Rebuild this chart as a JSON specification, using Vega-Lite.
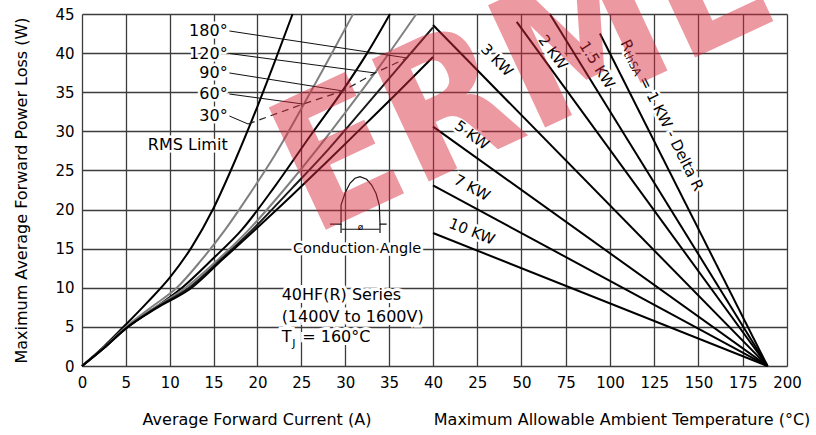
{
"$schema":"https://vega.github.io/schema/vega-lite/v6.json",
"width":705,"height":352,
"autosize":{"type":"none"},
"padding":{"left":82,"top":14,"right":29,"bottom":69},
"background":"white",
"config":{"view":{"stroke":null},"font":"DejaVu Sans",
 "axis":{"labelFont":"DejaVu Sans","labelFontSize":15,"labelColor":"#000","titleFont":"DejaVu Sans","titleFontSize":16,"titleFontWeight":"normal","titleColor":"#000","grid":true,"gridColor":"#3c3c3c","gridWidth":1.3,"domain":false,"ticks":false,"tickSize":0},
 "text":{"font":"DejaVu Sans","color":"#000"}},
"datasets":{
 "curves":[
  {"curve":"30","current":0,"power":0},{"curve":"30","current":2.5,"power":2.5},{"curve":"30","current":5,"power":5.3},{"curve":"30","current":7.5,"power":8.2},{"curve":"30","current":10,"power":11.3},{"curve":"30","current":12.5,"power":15.2},{"curve":"30","current":15,"power":20.2},{"curve":"30","current":17.5,"power":26.4},{"curve":"30","current":20,"power":33.2},{"curve":"30","current":22,"power":39.0},{"curve":"30","current":24,"power":45},
  {"curve":"60","current":0,"power":0},{"curve":"60","current":2.5,"power":2.4},{"curve":"60","current":5,"power":5.0},{"curve":"60","current":8,"power":7.6},{"curve":"60","current":10.8,"power":10},{"curve":"60","current":13.5,"power":13.4},{"curve":"60","current":16.3,"power":17.4},{"curve":"60","current":19,"power":21.8},{"curve":"60","current":22,"power":27.0},{"curve":"60","current":25.2,"power":33.3},{"curve":"60","current":28,"power":39.0},{"curve":"60","current":30.9,"power":45},
  {"curve":"90","current":0,"power":0},{"curve":"90","current":2.5,"power":2.3},{"curve":"90","current":5,"power":4.8},{"curve":"90","current":8,"power":7.2},{"curve":"90","current":11.4,"power":10},{"curve":"90","current":15,"power":13.8},{"curve":"90","current":18.2,"power":17.4},{"curve":"90","current":22,"power":23.0},{"curve":"90","current":26,"power":29.4},{"curve":"90","current":29.7,"power":35.2},{"curve":"90","current":32.5,"power":40.0},{"curve":"90","current":35.1,"power":45},
  {"curve":"120","current":0,"power":0},{"curve":"120","current":2.5,"power":2.3},{"curve":"120","current":5,"power":4.8},{"curve":"120","current":8.5,"power":7.6},{"curve":"120","current":11.8,"power":10},{"curve":"120","current":15.5,"power":13.6},{"curve":"120","current":19,"power":17.4},{"curve":"120","current":23,"power":22.5},{"curve":"120","current":27,"power":28.0},{"curve":"120","current":30,"power":32.4},{"curve":"120","current":33.4,"power":37.5},{"curve":"120","current":38.1,"power":45},
  {"curve":"180","current":0,"power":0},{"curve":"180","current":2.5,"power":2.3},{"curve":"180","current":5,"power":4.8},{"curve":"180","current":8.5,"power":7.5},{"curve":"180","current":12.2,"power":10},{"curve":"180","current":16,"power":13.8},{"curve":"180","current":19.4,"power":17.4},{"curve":"180","current":24,"power":22.8},{"curve":"180","current":28,"power":27.6},{"curve":"180","current":32,"power":32.8},{"curve":"180","current":37,"power":39.4},{"curve":"180","current":40,"power":43.3},
  {"curve":"DC","current":0,"power":0},{"curve":"DC","current":2.5,"power":2.3},{"curve":"DC","current":5,"power":4.8},{"curve":"DC","current":8.5,"power":7.4},{"curve":"DC","current":12.5,"power":10},{"curve":"DC","current":16,"power":13.6},{"curve":"DC","current":19.7,"power":17.4},{"curve":"DC","current":24,"power":21.9},{"curve":"DC","current":28,"power":26.2},{"curve":"DC","current":32,"power":30.6},{"curve":"DC","current":36,"power":35.0},{"curve":"DC","current":40,"power":39.5}
 ],
 "rth":[
  {"rth":"10","temp":0,"power":17.0},{"rth":"10","temp":189,"power":0},
  {"rth":"7","temp":0,"power":23.1},{"rth":"7","temp":189,"power":0},
  {"rth":"5","temp":0,"power":30.6},{"rth":"5","temp":189,"power":0},
  {"rth":"3","temp":0,"power":43.6},{"rth":"3","temp":189,"power":0},
  {"rth":"2","temp":47.3,"power":44.0},{"rth":"2","temp":189,"power":0},
  {"rth":"1.5","temp":66,"power":45},{"rth":"1.5","temp":189,"power":0},
  {"rth":"1","temp":94.3,"power":42.5},{"rth":"1","temp":189,"power":0}
 ],
 "leaders":[
  {"label":"180","current":16.8,"power":42.83},{"label":"180","current":37.04,"power":39.38},
  {"label":"120","current":16.8,"power":39.95},{"label":"120","current":33.39,"power":37.46},
  {"label":"90","current":16.8,"power":37.46},{"label":"90","current":29.74,"power":35.16},
  {"label":"60","current":16.8,"power":34.77},{"label":"60","current":25.19,"power":33.49},
  {"label":"30","current":16.8,"power":31.96},{"label":"30","current":18.92,"power":30.94}
 ],
 "wave":[
  {"seg":"w","current":28.26,"power":18.15},{"seg":"w","current":29.52,"power":18.15},{"seg":"w","current":29.52,"power":20.58},{"seg":"w","current":29.97,"power":22.08},{"seg":"w","current":30.54,"power":23.36},{"seg":"w","current":31.11,"power":24.0},{"seg":"w","current":31.68,"power":24.2},{"seg":"w","current":32.44,"power":23.87},{"seg":"w","current":33.01,"power":23.14},{"seg":"w","current":33.5,"power":22.08},{"seg":"w","current":33.88,"power":20.58},{"seg":"w","current":33.96,"power":18.15},{"seg":"w","current":34.72,"power":18.15},
  {"seg":"d","current":29.59,"power":17.48},{"seg":"d","current":33.9,"power":17.48},
  {"seg":"l","current":29.52,"power":17.0},{"seg":"l","current":29.52,"power":18.15},
  {"seg":"r","current":33.96,"power":17.0},{"seg":"r","current":33.96,"power":18.15}
 ]
},
"resolve":{"scale":{"x":"independent"},"axis":{"x":"independent"}},
"layer":[
 {
  "encoding":{
   "x":{"field":"current","type":"quantitative","scale":{"domain":[0,80.3419],"range":[0,705],"nice":false,"zero":false},"axis":{"orient":"bottom","values":[0,5,10,15,20,25,30,35,40,45.043,50.085,55.128,60.171,65.214,70.256,75.299,80.3419],"labelExpr":"datum.value > 41 ? format((datum.value - 40) / 0.201709, '.0f') : format(datum.value, '.0f')","title":null,"labelPadding":9,"labelFlush":false,"labelOverlap":false,"grid":true}},
   "y":{"field":"power","type":"quantitative","scale":{"domain":[0,45],"nice":false,"zero":false},"axis":{"values":[0,5,10,15,20,25,30,35,40,45],"title":"Maximum Average Forward Power Loss (W)","labelPadding":8,"titlePadding":25,"labelFlush":false,"grid":true}}
  },
  "layer":[
   {"data":{"name":"curves"},"mark":{"type":"line","strokeWidth":2,"interpolate":"monotone"},
    "encoding":{"color":{"field":"curve","type":"nominal","scale":{"domain":["30","60","90","120","180","DC"],"range":["#000000","#808080","#000000","#808080","#1a1a1a","#000000"]},"legend":null}}},
   {"data":{"values":[{"current":18.92,"power":30.94},{"current":25.19,"power":33.49},{"current":29.74,"power":35.16},{"current":33.39,"power":37.46},{"current":37.04,"power":39.38},{"current":39.8,"power":43.0}]},
    "mark":{"type":"line","strokeDash":[7,5],"strokeWidth":1.2,"color":"#222222"},"encoding":{}},
   {"data":{"name":"leaders"},"mark":{"type":"line","strokeWidth":1,"color":"#111111"},"encoding":{"detail":{"field":"label"}}},
   {"data":{"name":"wave"},"mark":{"type":"line","strokeWidth":1.2,"color":"#111111"},"encoding":{"detail":{"field":"seg"}}},
   {"data":{"values":[{"text":"180°","current":16.6,"power":42.83},{"text":"120°","current":16.6,"power":39.95},{"text":"90°","current":16.6,"power":37.46},{"text":"60°","current":16.6,"power":34.77},{"text":"30°","current":16.6,"power":31.96},{"text":"RMS Limit","current":16.6,"power":28.25}]},
    "mark":{"type":"text","align":"right","baseline":"middle","fontSize":16,"fill":"white","stroke":"white","strokeWidth":5},"encoding":{"text":{"field":"text"}}},
   {"data":{"values":[{"text":"180°","current":16.6,"power":42.83},{"text":"120°","current":16.6,"power":39.95},{"text":"90°","current":16.6,"power":37.46},{"text":"60°","current":16.6,"power":34.77},{"text":"30°","current":16.6,"power":31.96},{"text":"RMS Limit","current":16.6,"power":28.25}]},
    "mark":{"type":"text","align":"right","baseline":"middle","fontSize":16,"color":"#000"},"encoding":{"text":{"field":"text"}}},
   {"data":{"values":[{"text":"Conduction Angle","current":31.34,"power":14.96}]},
    "mark":{"type":"text","align":"center","baseline":"middle","fontSize":14.5,"fill":"white","stroke":"white","strokeWidth":5},"encoding":{"text":{"field":"text"}}},
   {"data":{"values":[{"text":"Conduction Angle","current":31.34,"power":14.96}]},
    "mark":{"type":"text","align":"center","baseline":"middle","fontSize":14.5,"color":"#000"},"encoding":{"text":{"field":"text"}}},
   {"data":{"values":[{"text":"ø","current":31.75,"power":17.75}]},
    "mark":{"type":"text","align":"center","baseline":"middle","fontSize":9,"color":"#000"},"encoding":{"text":{"field":"text"}}},
   {"data":{"values":[{"text":"40HF(R) Series","current":22.75,"power":9.08},{"text":"(1400V to 1600V)","current":22.75,"power":6.3},{"text":"T","current":22.75,"power":3.75},{"text":"= 160°C","current":25.1,"power":3.75}]},
    "mark":{"type":"text","align":"left","baseline":"middle","fontSize":16,"fill":"white","stroke":"white","strokeWidth":6},"encoding":{"text":{"field":"text"}}},
   {"data":{"values":[{"text":"40HF(R) Series","current":22.75,"power":9.08},{"text":"(1400V to 1600V)","current":22.75,"power":6.3},{"text":"T","current":22.75,"power":3.75},{"text":"= 160°C","current":25.1,"power":3.75}]},
    "mark":{"type":"text","align":"left","baseline":"middle","fontSize":16,"color":"#000"},"encoding":{"text":{"field":"text"}}},
   {"data":{"values":[{"text":"J","current":23.95,"power":2.8}]},
    "mark":{"type":"text","align":"left","baseline":"middle","fontSize":11,"color":"#000"},"encoding":{"text":{"field":"text"}}},
   {"data":{"values":[{"text":"Average Forward Current (A)","current":19.94,"power":-6.9}]},
    "mark":{"type":"text","align":"center","baseline":"middle","fontSize":16,"color":"#000"},"encoding":{"text":{"field":"text"}}}
  ]
 },
 {
  "encoding":{
   "x":{"field":"temp","type":"quantitative","scale":{"domain":[0,200],"range":[351,705],"nice":false,"zero":false},"axis":null},
   "y":{"field":"power","type":"quantitative","scale":{"domain":[0,45],"nice":false,"zero":false},"axis":{"values":[0,5,10,15,20,25,30,35,40,45],"title":"Maximum Average Forward Power Loss (W)","labelPadding":8,"titlePadding":25,"labelFlush":false,"grid":true}}
  },
  "layer":[
   {"data":{"name":"rth"},"mark":{"type":"line","strokeWidth":2,"color":"#000000"},"encoding":{"detail":{"field":"rth"}}},
   {"data":{"values":[{"text":"3 KW","temp":36.2,"power":39.1}]},"mark":{"type":"text","angle":45.6,"align":"center","baseline":"middle","fontSize":15,"fill":"white","stroke":"white","strokeWidth":5},"encoding":{"text":{"field":"text"}}},
   {"data":{"values":[{"text":"3 KW","temp":36.2,"power":39.1}]},"mark":{"type":"text","angle":45.6,"align":"center","baseline":"middle","fontSize":15,"color":"#000"},"encoding":{"text":{"field":"text"}}},
   {"data":{"values":[{"text":"2 KW","temp":67.8,"power":40.1}]},"mark":{"type":"text","angle":54,"align":"center","baseline":"middle","fontSize":15,"fill":"white","stroke":"white","strokeWidth":5},"encoding":{"text":{"field":"text"}}},
   {"data":{"values":[{"text":"2 KW","temp":67.8,"power":40.1}]},"mark":{"type":"text","angle":54,"align":"center","baseline":"middle","fontSize":15,"color":"#000"},"encoding":{"text":{"field":"text"}}},
   {"data":{"values":[{"text":"1.5 KW","temp":92.7,"power":38.5}]},"mark":{"type":"text","angle":58,"align":"center","baseline":"middle","fontSize":15,"fill":"white","stroke":"white","strokeWidth":5},"encoding":{"text":{"field":"text"}}},
   {"data":{"values":[{"text":"1.5 KW","temp":92.7,"power":38.5}]},"mark":{"type":"text","angle":58,"align":"center","baseline":"middle","fontSize":15,"color":"#000"},"encoding":{"text":{"field":"text"}}},
   {"data":{"values":[{"text":"R","temp":108.3,"power":41.6}]},"mark":{"type":"text","angle":63.4,"align":"left","baseline":"middle","fontSize":15,"fill":"white","stroke":"white","strokeWidth":5},"encoding":{"text":{"field":"text"}}},
   {"data":{"values":[{"text":"thSA","temp":108.3,"power":41.6}]},"mark":{"type":"text","angle":63.4,"align":"left","baseline":"middle","fontSize":11,"dx":11,"dy":4,"fill":"white","stroke":"white","strokeWidth":5},"encoding":{"text":{"field":"text"}}},
   {"data":{"values":[{"text":"= 1 KW - Delta R","temp":108.3,"power":41.6}]},"mark":{"type":"text","angle":63.4,"align":"left","baseline":"middle","fontSize":15,"dx":41,"fill":"white","stroke":"white","strokeWidth":5},"encoding":{"text":{"field":"text"}}},
   {"data":{"values":[{"text":"R","temp":108.3,"power":41.6}]},"mark":{"type":"text","angle":63.4,"align":"left","baseline":"middle","fontSize":15,"color":"#000"},"encoding":{"text":{"field":"text"}}},
   {"data":{"values":[{"text":"thSA","temp":108.3,"power":41.6}]},"mark":{"type":"text","angle":63.4,"align":"left","baseline":"middle","fontSize":11,"dx":11,"dy":4,"color":"#000"},"encoding":{"text":{"field":"text"}}},
   {"data":{"values":[{"text":"= 1 KW - Delta R","temp":108.3,"power":41.6}]},"mark":{"type":"text","angle":63.4,"align":"left","baseline":"middle","fontSize":15,"dx":41,"color":"#000"},"encoding":{"text":{"field":"text"}}},
   {"data":{"values":[{"text":"5 KW","temp":22.0,"power":29.5}]},"mark":{"type":"text","angle":35.6,"align":"center","baseline":"middle","fontSize":15,"fill":"white","stroke":"white","strokeWidth":5},"encoding":{"text":{"field":"text"}}},
   {"data":{"values":[{"text":"5 KW","temp":22.0,"power":29.5}]},"mark":{"type":"text","angle":35.6,"align":"center","baseline":"middle","fontSize":15,"color":"#000"},"encoding":{"text":{"field":"text"}}},
   {"data":{"values":[{"text":"7 KW","temp":22.0,"power":22.8}]},"mark":{"type":"text","angle":28.5,"align":"center","baseline":"middle","fontSize":15,"fill":"white","stroke":"white","strokeWidth":5},"encoding":{"text":{"field":"text"}}},
   {"data":{"values":[{"text":"7 KW","temp":22.0,"power":22.8}]},"mark":{"type":"text","angle":28.5,"align":"center","baseline":"middle","fontSize":15,"color":"#000"},"encoding":{"text":{"field":"text"}}},
   {"data":{"values":[{"text":"10 KW","temp":22.0,"power":17.2}]},"mark":{"type":"text","angle":21.7,"align":"center","baseline":"middle","fontSize":15,"fill":"white","stroke":"white","strokeWidth":5},"encoding":{"text":{"field":"text"}}},
   {"data":{"values":[{"text":"10 KW","temp":22.0,"power":17.2}]},"mark":{"type":"text","angle":21.7,"align":"center","baseline":"middle","fontSize":15,"color":"#000"},"encoding":{"text":{"field":"text"}}},
   {"data":{"values":[{"text":"Maximum Allowable Ambient Temperature (°C)","temp":106.8,"power":-6.9}]},
    "mark":{"type":"text","align":"center","baseline":"middle","fontSize":16,"color":"#000"},"encoding":{"text":{"field":"text"}}}
  ]
 },
 {
  "encoding":{
   "x":{"field":"current","type":"quantitative","scale":{"domain":[0,80.3419],"range":[0,705],"nice":false,"zero":false},"axis":null},
   "y":{"field":"power","type":"quantitative","scale":{"domain":[0,45],"nice":false,"zero":false},"axis":{"values":[0,5,10,15,20,25,30,35,40,45],"title":"Maximum Average Forward Power Loss (W)","labelPadding":8,"titlePadding":25,"labelFlush":false,"grid":true}}
  },
  "layer":[
   {"data":{"values":[{"text":"ERMEC","current":26.2,"power":16.6}]},
    "mark":{"type":"text","angle":-25,"align":"left","baseline":"alphabetic","font":"DejaVu Sans Condensed","fontWeight":"bold","fontSize":185,"color":"#d8283c","opacity":0.47},
    "encoding":{"text":{"field":"text"}}}
  ]
 }
]
}
